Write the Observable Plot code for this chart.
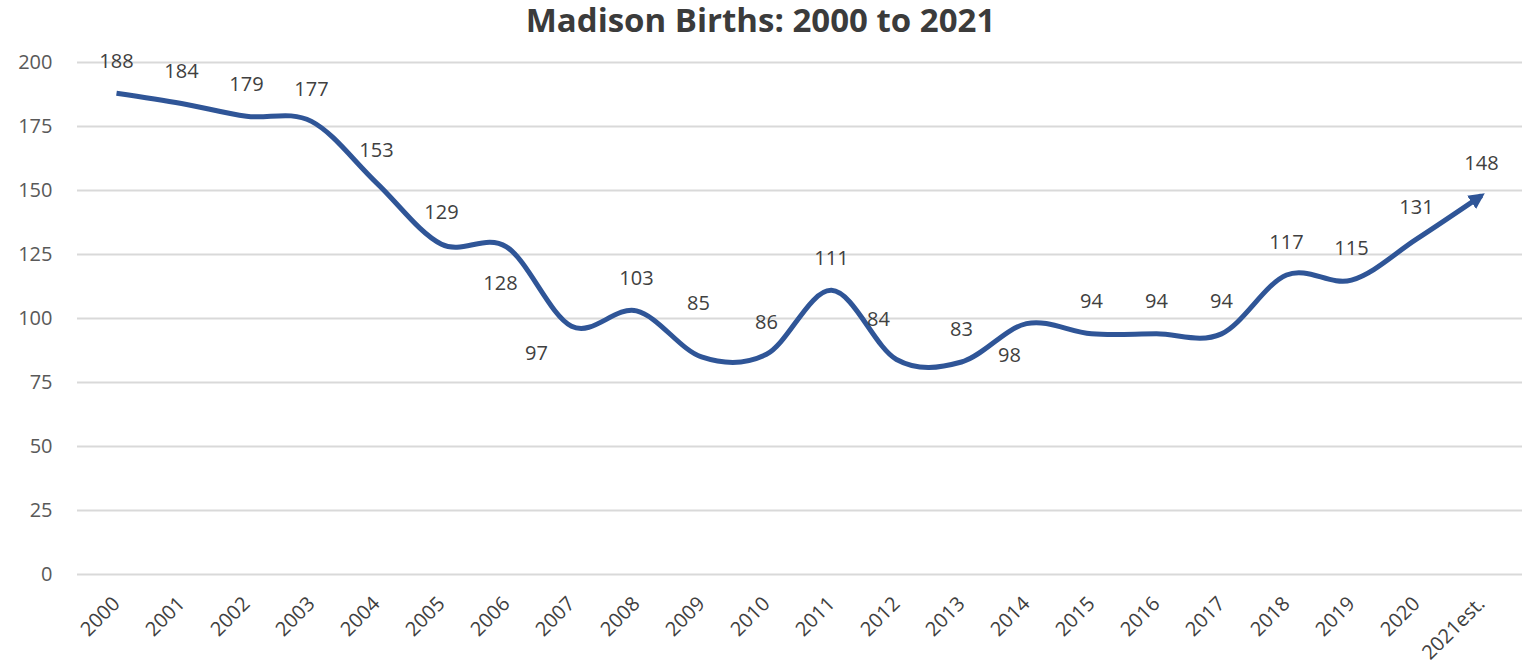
<!DOCTYPE html>
<html>
<head>
<meta charset="utf-8">
<script src="https://cdn.jsdelivr.net/npm/d3@7"></script>
<script src="https://cdn.jsdelivr.net/npm/@observablehq/plot@0.6"></script>
<style>
  html, body { margin: 0; padding: 0; background: #fff; overflow: hidden; }
  #title { font-family: "Open Sans", sans-serif; font-weight: 700; font-size: 33px; color: #3b3b3b; text-align: center; height: 40px; line-height: 40px; width: 1527px; position: relative; left: -3px; }
  #chart svg { display: block; }
</style>
</head>
<body>
<div id="title">Madison Births: 2000 to 2021</div>
<div id="chart"></div>
<script>
const years = ["2000","2001","2002","2003","2004","2005","2006","2007","2008","2009","2010","2011","2012","2013","2014","2015","2016","2017","2018","2019","2020","2021est."];
const births = [188,184,179,177,153,129,128,97,103,85,86,111,84,83,98,94,94,94,117,115,131,148];
// label placement relative to point: n = above, s = below, sw = below-left, nw = above-left, nn = well above
const labelPlacement = ["n","n","n","n","n","n","s","sw","n","nn","n","n","nw","n","ssw","n","n","n","n","n","n","n"];
const yTicks = [0,25,50,75,100,125,150,175,200];

const offsets = {n: [0,-32], nn: [-3,-53], s: [-6,37], sw: [-35,27], ssw: [-17,32], nw: [-18,-40]};
const data = years.map((y, i) => ({year: y, value: births[i], place: labelPlacement[i]}));

const labelMarks = Object.keys(offsets).map(k => Plot.text(data.filter(d => d.place === k), {
  x: "year", y: "value", text: d => String(d.value), dx: offsets[k][0], dy: offsets[k][1],
  fill: "#404040", fontSize: 20
}));

const plot = Plot.plot({
  width: 1527,
  height: 631,
  marginTop: 22,
  marginBottom: 97,
  marginLeft: 77,
  marginRight: 5,
  style: {fontFamily: "'Open Sans', sans-serif", background: "#fff"},
  x: {type: "point", domain: years, padding: 0, range: [108, 1488], label: null},
  y: {domain: [0, 200], label: null},
  marks: [
    Plot.ruleY(yTicks, {stroke: "#d9d9d9", strokeWidth: 2}),
    Plot.axisY({ticks: yTicks, tickSize: 0, tickPadding: 25, fontSize: 20, color: "#595959", label: null}),
    Plot.axisX({tickSize: 0, tickRotate: -45, tickPadding: 26, fontSize: 20, color: "#404040", label: null}),
    Plot.line(data, {x: "year", y: "value", curve: "cardinal", stroke: "#2f5597", strokeWidth: 5, strokeLinecap: "butt"}),
    ...labelMarks
  ]
});

// arrowhead at the end of the line
const svgNS = "http://www.w3.org/2000/svg";
const defs = document.createElementNS(svgNS, "defs");
const marker = document.createElementNS(svgNS, "marker");
marker.setAttribute("id", "arrowEnd");
marker.setAttribute("markerUnits", "userSpaceOnUse");
marker.setAttribute("viewBox", "0 -10 20 20");
marker.setAttribute("markerWidth", 20);
marker.setAttribute("markerHeight", 20);
marker.setAttribute("refX", 12);
marker.setAttribute("refY", 0);
marker.setAttribute("orient", "auto");
const tri = document.createElementNS(svgNS, "path");
tri.setAttribute("d", "M0,-8L16,0L0,8Z");
tri.setAttribute("fill", "#2f5597");
marker.appendChild(tri);
defs.appendChild(marker);
plot.insertBefore(defs, plot.firstChild);
const linePath = plot.querySelector('g[aria-label="line"] path');
if (linePath) linePath.setAttribute("marker-end", "url(#arrowEnd)");

document.getElementById("chart").appendChild(plot);
</script>
</body>
</html>
